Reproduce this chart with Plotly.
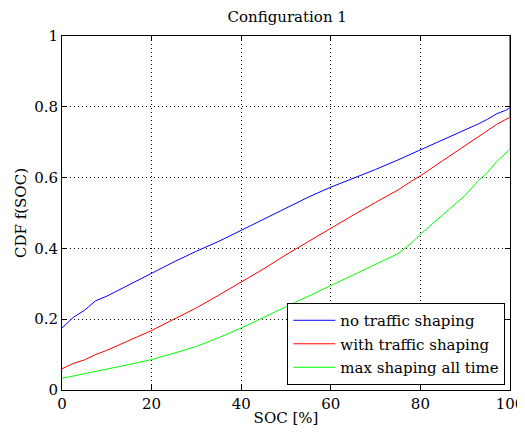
import plotly.graph_objects as go

soc = [0, 2.5, 5, 7.5, 10, 15, 20, 25, 30, 35, 40, 45, 50, 55, 60, 65, 70, 75, 78, 80, 85, 90, 93, 95, 97, 99, 100, 100]
no_shaping = [0.175, 0.205, 0.225, 0.252, 0.265, 0.297, 0.331, 0.362, 0.392, 0.42, 0.451, 0.482, 0.513, 0.545, 0.573,
              0.597, 0.623, 0.65, 0.667, 0.678, 0.706, 0.734, 0.752, 0.765, 0.78, 0.79, 0.797, 1.0]
with_shaping = [0.06, 0.075, 0.085, 0.1, 0.112, 0.14, 0.168, 0.2, 0.232, 0.268, 0.304, 0.342, 0.382, 0.42, 0.458,
                0.494, 0.53, 0.565, 0.59, 0.605, 0.648, 0.69, 0.716, 0.734, 0.75, 0.764, 0.77, 1.0]
max_shaping = [0.033, 0.04, 0.047, 0.053, 0.059, 0.072, 0.086, 0.104, 0.123, 0.148, 0.175, 0.205, 0.235, 0.265, 0.296,
               0.327, 0.355, 0.385, 0.415, 0.44, 0.495, 0.55, 0.592, 0.615, 0.645, 0.668, 0.68, 1.0]

x_ticks = [0, 20, 40, 60, 80, 100]
y_ticks = [0, 0.2, 0.4, 0.6, 0.8, 1]

FONT = "DejaVu Serif"

fig = go.Figure()
fig.add_trace(go.Scatter(x=soc, y=no_shaping, mode="lines", name="no traffic shaping", legendgroup="a",
                         line=dict(color="#0000ff", width=1)))
fig.add_trace(go.Scatter(x=soc, y=with_shaping, mode="lines", name="with traffic shaping", legendgroup="b",
                         line=dict(color="#ff0000", width=1)))
fig.add_trace(go.Scatter(x=soc, y=max_shaping, mode="lines", name="max shaping all time", legendgroup="c",
                         line=dict(color="#00ff00", width=1)))

axis_common = dict(
    showline=True, linecolor="black", linewidth=1, mirror="ticks",
    ticks="inside", ticklen=5, tickcolor="black",
    showgrid=True, gridcolor="black", griddash="1px,3px", gridwidth=1,
    zeroline=False, automargin=False, ticklabeloverflow="allow",
    tickfont=dict(family=FONT, size=15, color="black"),
)

fig.update_layout(
    width=517, height=419,
    margin=dict(l=54, r=15, t=28, b=37),
    paper_bgcolor="white", plot_bgcolor="white",
    title=dict(text="Configuration 1", x=0.54, xanchor="center", y=0.978, yanchor="middle",
               font=dict(family=FONT, size=15, color="black")),
    xaxis=dict(range=[0, 100], tickvals=x_ticks,
               title=dict(text="SOC [%]", font=dict(family=FONT, size=15, color="black"), standoff=1),
               **axis_common),
    yaxis=dict(range=[0, 1], tickvals=y_ticks,
               title=dict(text="CDF f(SOC)", font=dict(family=FONT, size=15, color="black"), standoff=3),
               **axis_common),
    legend=dict(x=0.503, y=0.014, xanchor="left", yanchor="bottom",
                bordercolor="black", borderwidth=1, bgcolor="white", tracegroupgap=1, itemwidth=42,
                font=dict(family=FONT, size=15, color="black")),
    showlegend=True,
)

fig.write_html("out.html")
